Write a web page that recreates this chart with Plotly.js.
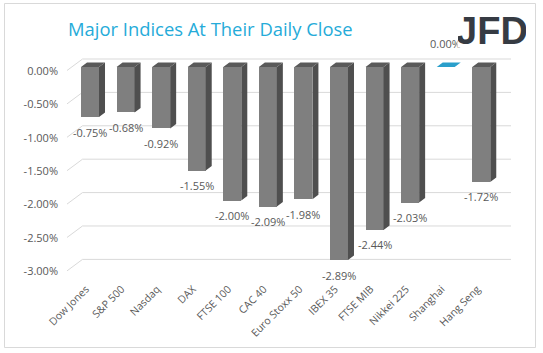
<!DOCTYPE html>
<html>
<head>
<meta charset="utf-8">
<script src="https://cdn.plot.ly/plotly-3.0.1.min.js"></script>
<style>
html,body{margin:0;padding:0;background:#fff;}
#chart{width:543px;height:353px;}
</style>
</head>
<body>
<div id="chart"></div>
<script>
// ---- data ----
const categories = ["Dow Jones","S&P 500","Nasdaq","DAX","FTSE 100","CAC 40","Euro Stoxx 50","IBEX 35","FTSE MIB","Nikkei 225","Shanghai","Hang Seng"];
const changes = [-0.75,-0.68,-0.92,-1.55,-2.00,-2.09,-1.98,-2.89,-2.44,-2.03,0.00,-1.72];
const yTicks = [0,-0.5,-1,-1.5,-2,-2.5,-3];
const titleText = "Major Indices At Their Daily Close";

// ---- layout geometry ----
const W = 543, H = 353;
const M = {l:67, r:32, t:50, b:73};
const xRange = [-0.647, 11.836];
const yRange = [-3.189, 0.2545];
const plotW = W - M.l - M.r, plotH = H - M.t - M.b;
const pxX = plotW / (xRange[1]-xRange[0]);   // px per category unit
const pxY = plotH / (yRange[1]-yRange[0]);   // px per percent

const barW = 18 / pxX;          // front face width
const depthX = 6 / pxX;         // bar depth (x)
const depthY = 4.5 / pxY;       // bar depth (y)
const wallX = 15.5 / pxX;       // back wall offset
const wallUp = 8 / pxY;
const floorDown = 3.5 / pxY;

const idx = categories.map((c,i)=>i);
const GRAY_FRONT = '#7f7f7f', GRAY_SIDE = '#4f4f4f', GRAY_TOP = '#5a5a5a', BLUE = '#2a9fcb';

// side faces & top faces, from the data through the axes
const sideX = [], sideY = [], topGX = [], topGY = [], topBX = [], topBY = [];
changes.forEach((v,i)=>{
  const r = i + barW/2, l = i - barW/2;
  const top = Math.max(v,0), bot = Math.min(v,0);
  if (v !== 0) {
    sideX.push(r, r+depthX, r+depthX, r, r, null);
    sideY.push(top, top+depthY, bot+depthY, bot, top, null);
  }
  const tx = [l, r, r+depthX, l+depthX, l, null];
  const ty = [top, top, top+depthY, top+depthY, top, null];
  if (v >= 0) { topBX.push(...tx); topBY.push(...ty); }
  else { topGX.push(...tx); topGY.push(...ty); }
});

const traces = [
  {type:'bar', x:idx, y:changes, width:barW, marker:{color:changes.map(v=>v>=0?BLUE:GRAY_FRONT), line:{width:0}}, hoverinfo:'skip'},
  {type:'scatter', mode:'lines', x:sideX, y:sideY, fill:'toself', fillcolor:GRAY_SIDE, line:{width:0}, hoverinfo:'skip'},
  {type:'scatter', mode:'lines', x:topGX, y:topGY, fill:'toself', fillcolor:GRAY_TOP, line:{width:0}, hoverinfo:'skip'},
  {type:'scatter', mode:'lines', x:topBX, y:topBY, fill:'toself', fillcolor:BLUE, line:{width:0}, hoverinfo:'skip'}
];

// gridlines drawn in 3D perspective (front floor edge -> back wall)
const shapes = [];
yTicks.forEach(v=>{
  shapes.push({type:'line', layer:'below', xref:'x', yref:'y', x0:xRange[0], y0:v-floorDown, x1:xRange[0]+wallX, y1:v+wallUp, line:{color:'#d9d9d9', width:1}});
  shapes.push({type:'line', layer:'below', xref:'x', yref:'y', x0:xRange[0]+wallX, y0:v+wallUp, x1:xRange[1], y1:v+wallUp, line:{color:'#d9d9d9', width:1}});
});
// chart border
shapes.push({type:'rect', xref:'paper', yref:'paper',
  x0:(4.5-M.l)/plotW, x1:(535.5-M.l)/plotW, y0:(H-M.b-347.5)/plotH, y1:(H-M.b-3.5)/plotH,
  line:{color:'#d9d9d9', width:1}, fillcolor:'rgba(0,0,0,0)'});

const labelFont = {family:'Open Sans, sans-serif', size:11, color:'#595959'};
const annotations = changes.map((v,i)=>({
  x:i, y:v, xref:'x', yref:'y', text:v.toFixed(2)+'%', showarrow:false,
  yshift: v<0 ? -15 : 24, font:labelFont
}));
// logo
annotations.push({xref:'paper', yref:'paper', x:(491.5-M.l)/plotW, y:(H-M.b-30)/plotH,
  xanchor:'center', yanchor:'middle', width:68, height:33,
  text:'<b>JFD</b>', showarrow:false, bgcolor:'#ffffff', borderpad:0,
  font:{family:'Liberation Sans, sans-serif', size:38, color:'#363b43'}});

const layout = {
  width:W, height:H, margin:M, paper_bgcolor:'#fff', plot_bgcolor:'rgba(0,0,0,0)',
  showlegend:false,
  title:{text:titleText, x:68/W, xanchor:'left', xref:'container', y:1-30/H, yanchor:'middle', yref:'container',
    font:{family:'Open Sans, sans-serif', size:18.4, color:'#25abd9'}},
  xaxis:{range:xRange, tickmode:'array', tickvals:idx, ticktext:categories, tickangle:-45,
    showgrid:false, zeroline:false, showline:false, ticks:'', fixedrange:true,
    tickfont:{family:'Open Sans, sans-serif', size:10.5, color:'#595959'}, ticklabelshift:-4},
  yaxis:{range:yRange, tickmode:'array', tickvals:yTicks, ticktext:yTicks.map(v=>v.toFixed(2)+'%'),
    showgrid:false, zeroline:false, showline:false, ticks:'', tickfont:labelFont,
    ticklabelstandoff:8, ticklabelshift:4, fixedrange:true},
  bargap:0,
  shapes:shapes, annotations:annotations
};

Plotly.newPlot('chart', traces, layout, {staticPlot:true, displayModeBar:false});
</script>
</body>
</html>
